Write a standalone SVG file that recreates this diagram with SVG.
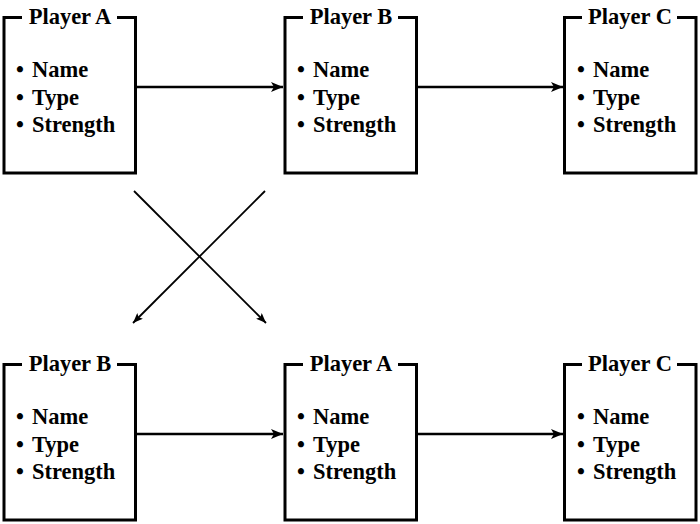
<svg xmlns="http://www.w3.org/2000/svg" width="700" height="524" viewBox="0 0 700 524">
<defs>
<style>
.box{fill:#fff;stroke:#000;stroke-width:3}
.tbg{fill:#fff;stroke:none}
.title{font-family:'Liberation Serif','Times New Roman',Times,serif;font-weight:700;font-size:22.5px;text-anchor:middle;fill:#000}
.item{font-family:'Liberation Serif','Times New Roman',Times,serif;font-weight:700;font-size:22.5px;fill:#000}
.conn{stroke:#000;stroke-width:2.5;fill:none}
.diag{stroke:#000;stroke-width:1.8;fill:none}
</style>
<marker id="ah" viewBox="0 0 12 10" refX="12" refY="5" markerWidth="12" markerHeight="10" markerUnits="userSpaceOnUse" orient="auto">
<path d="M0,0 L12,5 L0,10 L3,5 z" fill="#000"/>
</marker>
<marker id="ah2" viewBox="0 0 10 8" refX="10" refY="4" markerWidth="10" markerHeight="8" markerUnits="userSpaceOnUse" orient="auto">
<path d="M0,0 L10,4 L0,8 L2,4 z" fill="#000"/>
</marker>
</defs>
<g id="connectors">
<line class="conn" x1="137" y1="87" x2="283" y2="87" marker-end="url(#ah)"/>
<line class="conn" x1="418" y1="87" x2="563" y2="87" marker-end="url(#ah)"/>
<line class="conn" x1="137" y1="434" x2="283" y2="434" marker-end="url(#ah)"/>
<line class="conn" x1="418" y1="434" x2="563" y2="434" marker-end="url(#ah)"/>
<line class="diag" x1="134" y1="191" x2="266" y2="323" marker-end="url(#ah2)"/>
<line class="diag" x1="265" y1="191" x2="133" y2="323" marker-end="url(#ah2)"/>
</g>
<g id="top-player-a">
<rect class="box" x="4" y="17.5" width="131.5" height="155.5"/>
<rect class="tbg" x="22" y="8" width="95" height="16"/>
<text class="title" x="70" y="24">Player A</text>
<text class="item" y="77"><tspan x="16">•</tspan><tspan x="32">Name</tspan></text>
<text class="item" y="104.5"><tspan x="16">•</tspan><tspan x="32">Type</tspan></text>
<text class="item" y="132"><tspan x="16">•</tspan><tspan x="32">Strength</tspan></text>
</g>
<g id="top-player-b">
<rect class="box" x="285" y="17.5" width="131.5" height="155.5"/>
<rect class="tbg" x="303" y="8" width="95" height="16"/>
<text class="title" x="351" y="24">Player B</text>
<text class="item" y="77"><tspan x="297">•</tspan><tspan x="313">Name</tspan></text>
<text class="item" y="104.5"><tspan x="297">•</tspan><tspan x="313">Type</tspan></text>
<text class="item" y="132"><tspan x="297">•</tspan><tspan x="313">Strength</tspan></text>
</g>
<g id="top-player-c">
<rect class="box" x="564.5" y="17.5" width="131.5" height="155.5"/>
<rect class="tbg" x="582" y="8" width="95" height="16"/>
<text class="title" x="630" y="24">Player C</text>
<text class="item" y="77"><tspan x="577">•</tspan><tspan x="593">Name</tspan></text>
<text class="item" y="104.5"><tspan x="577">•</tspan><tspan x="593">Type</tspan></text>
<text class="item" y="132"><tspan x="577">•</tspan><tspan x="593">Strength</tspan></text>
</g>
<g id="bottom-player-b">
<rect class="box" x="4" y="364.5" width="131.5" height="155.5"/>
<rect class="tbg" x="22" y="355" width="95" height="16"/>
<text class="title" x="70" y="371">Player B</text>
<text class="item" y="424"><tspan x="16">•</tspan><tspan x="32">Name</tspan></text>
<text class="item" y="451.5"><tspan x="16">•</tspan><tspan x="32">Type</tspan></text>
<text class="item" y="479"><tspan x="16">•</tspan><tspan x="32">Strength</tspan></text>
</g>
<g id="bottom-player-a">
<rect class="box" x="285" y="364.5" width="131.5" height="155.5"/>
<rect class="tbg" x="303" y="355" width="95" height="16"/>
<text class="title" x="351" y="371">Player A</text>
<text class="item" y="424"><tspan x="297">•</tspan><tspan x="313">Name</tspan></text>
<text class="item" y="451.5"><tspan x="297">•</tspan><tspan x="313">Type</tspan></text>
<text class="item" y="479"><tspan x="297">•</tspan><tspan x="313">Strength</tspan></text>
</g>
<g id="bottom-player-c">
<rect class="box" x="564.5" y="364.5" width="131.5" height="155.5"/>
<rect class="tbg" x="582" y="355" width="95" height="16"/>
<text class="title" x="630" y="371">Player C</text>
<text class="item" y="424"><tspan x="577">•</tspan><tspan x="593">Name</tspan></text>
<text class="item" y="451.5"><tspan x="577">•</tspan><tspan x="593">Type</tspan></text>
<text class="item" y="479"><tspan x="577">•</tspan><tspan x="593">Strength</tspan></text>
</g>
</svg>
